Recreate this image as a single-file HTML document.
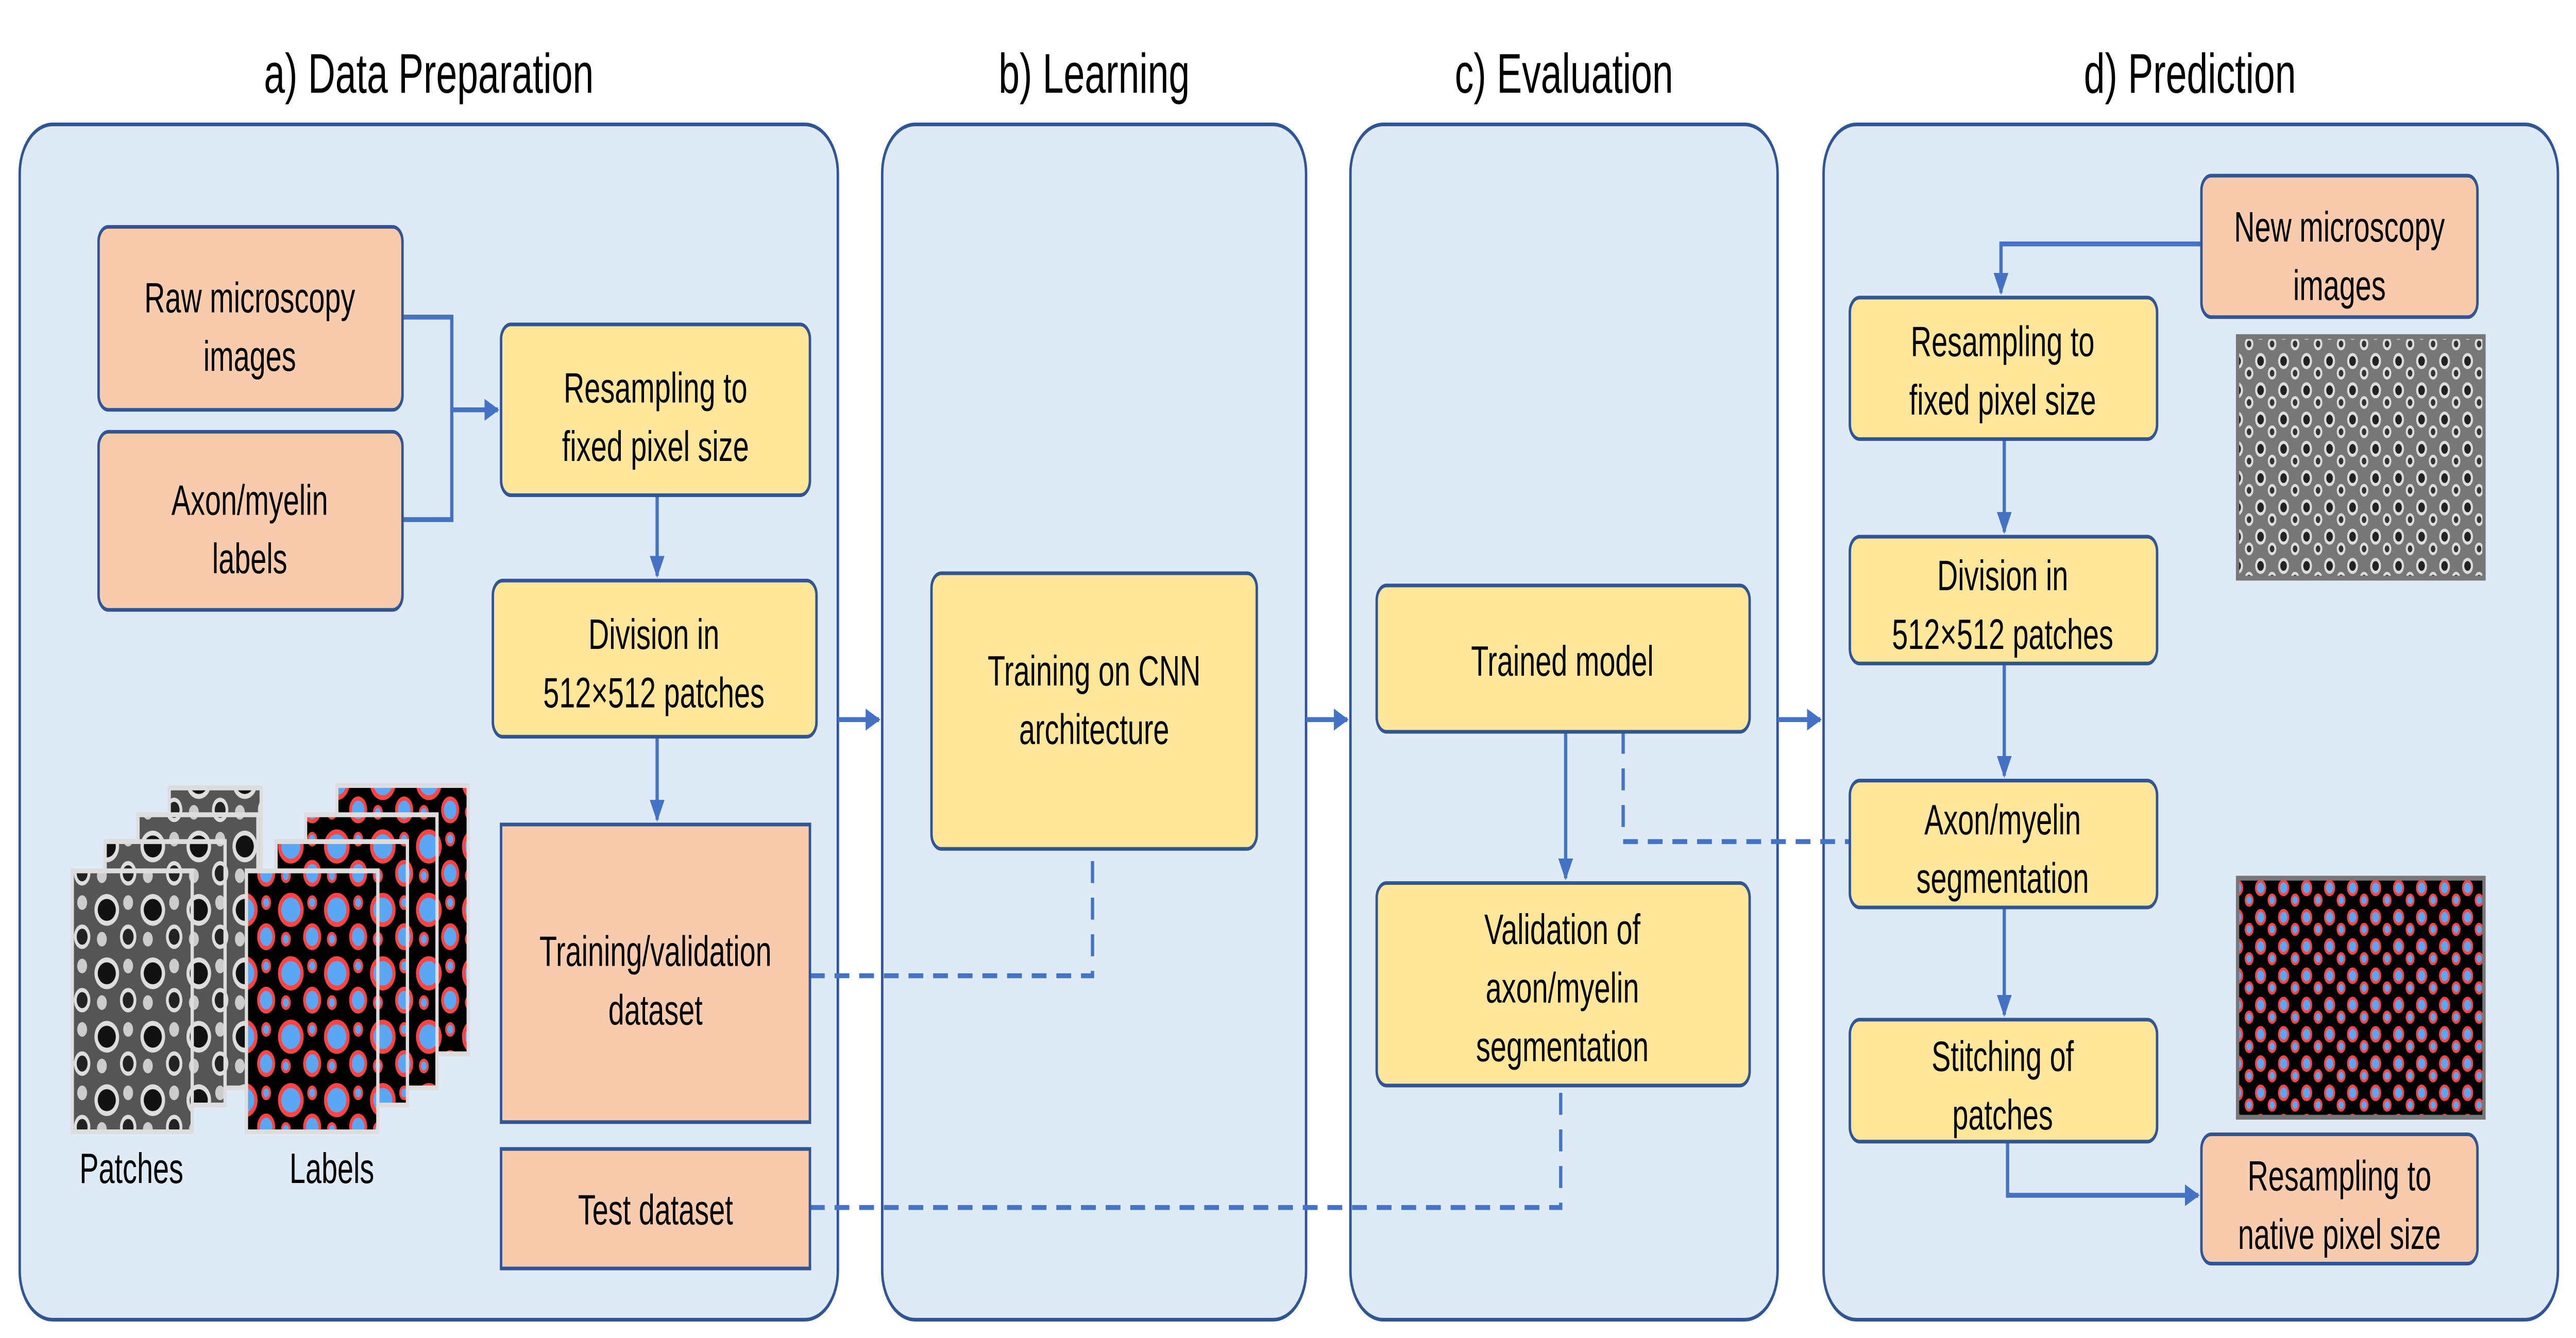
<!DOCTYPE html>
<html><head><meta charset="utf-8"><style>
html,body{margin:0;padding:0;background:#fff;overflow:hidden;width:100%;height:100%;}
svg{display:block;width:100vw;height:100vh;}
text{font-family:"Liberation Sans",Arial,sans-serif;fill:#000;}
</style></head><body>
<svg viewBox="0 0 1568 548.5" preserveAspectRatio="none" xmlns="http://www.w3.org/2000/svg">
<defs>
<marker id="ar" viewBox="0 0 10 10" refX="9" refY="5" markerWidth="4.5" markerHeight="4.5" orient="auto"><path d="M0,0 L10,5 L0,10 Z" fill="#4472C4"/></marker>
<pattern id="gray" width="14" height="12" patternUnits="userSpaceOnUse">
<rect width="14" height="12" fill="#777"/>
<circle cx="4" cy="4" r="3.3" fill="#ddd"/><circle cx="4" cy="4" r="2" fill="#222"/>
<circle cx="11" cy="9" r="2.6" fill="#ddd"/><circle cx="11" cy="9" r="1.4" fill="#333"/>
</pattern>
<pattern id="grayBig" width="28" height="26" patternUnits="userSpaceOnUse">
<rect width="28" height="26" fill="#555"/>
<ellipse cx="9" cy="9" rx="7.5" ry="6.5" fill="#ddd"/><ellipse cx="9" cy="9" rx="5.5" ry="4.5" fill="#111"/>
<circle cx="22" cy="20" r="5" fill="#ddd"/><circle cx="22" cy="20" r="3.3" fill="#222"/>
<circle cx="22" cy="6" r="3" fill="#ccc"/><circle cx="6" cy="21" r="3" fill="#ccc"/>
</pattern>
<pattern id="lab" width="14" height="12" patternUnits="userSpaceOnUse">
<rect width="14" height="12" fill="#000"/>
<circle cx="4" cy="4" r="3.4" fill="#F44"/><circle cx="4" cy="4" r="2.2" fill="#5AA8F5"/>
<circle cx="11" cy="9" r="2.7" fill="#F44"/><circle cx="11" cy="9" r="1.6" fill="#5AA8F5"/>
</pattern>
<pattern id="labBig" width="28" height="26" patternUnits="userSpaceOnUse">
<rect width="28" height="26" fill="#000"/>
<ellipse cx="9" cy="9" rx="7.8" ry="7" fill="#F44"/><ellipse cx="9" cy="9" rx="5.8" ry="5" fill="#5AA8F5"/>
<circle cx="22" cy="20" r="5.5" fill="#F44"/><circle cx="22" cy="20" r="3.8" fill="#5AA8F5"/>
<circle cx="22" cy="6" r="3" fill="#F44"/><circle cx="22" cy="6" r="1.8" fill="#5AA8F5"/>
<circle cx="6" cy="21" r="3" fill="#F44"/><circle cx="6" cy="21" r="1.8" fill="#5AA8F5"/>
</pattern>
</defs>

<g font-size="23" text-anchor="middle">
<text x="261" y="38">a) Data Preparation</text>
<text x="666" y="38">b) Learning</text>
<text x="952" y="38">c) Evaluation</text>
<text x="1333" y="38">d) Prediction</text>
</g>

<g fill="#DEEAF6" stroke="#2F5597" stroke-width="1.5">
<rect x="12" y="51" width="498" height="490" rx="20"/>
<rect x="537" y="51" width="258" height="490" rx="20"/>
<rect x="822" y="51" width="260" height="490" rx="20"/>
<rect x="1110" y="51" width="447" height="490" rx="20"/>
</g>

<g stroke="#4472C4" stroke-width="2" fill="none">
<path d="M245,130 H275 V213 H245"/>
<path d="M275,168 H303" marker-end="url(#ar)"/>
<path d="M400,203 V236" marker-end="url(#ar)"/>
<path d="M400,302 V336" marker-end="url(#ar)"/>
<path d="M510,295 H535" marker-end="url(#ar)"/>
<path d="M795,295 H820" marker-end="url(#ar)"/>
<path d="M1082,295 H1108" marker-end="url(#ar)"/>
<path d="M953,300 V360" marker-end="url(#ar)"/>
<path d="M1340,100 H1218 V120" marker-end="url(#ar)"/>
<path d="M1220,180 V218" marker-end="url(#ar)"/>
<path d="M1220,272 V318" marker-end="url(#ar)"/>
<path d="M1220,372 V416" marker-end="url(#ar)"/>
<path d="M1222,468 V490 H1338" marker-end="url(#ar)"/>
</g>
<g stroke="#4472C4" stroke-width="2" fill="none" stroke-dasharray="9,6">
<path d="M493,400 H665 V349"/>
<path d="M493,495 H950 V446"/>
<path d="M988,300 V345 H1126"/>
</g>

<g stroke="#2F5597" stroke-width="1.5">
<rect x="60" y="93" width="185" height="75" rx="6" fill="#F8CBAD"/>
<rect x="60" y="177" width="185" height="73" rx="6" fill="#F8CBAD"/>
<rect x="305" y="133" width="188" height="70" rx="6" fill="#FFE699"/>
<rect x="300" y="238" width="197" height="64" rx="6" fill="#FFE699"/>
<rect x="305" y="338" width="188" height="122" fill="#F8CBAD"/>
<rect x="305" y="471" width="188" height="49" fill="#F8CBAD"/>
<rect x="567" y="235" width="198" height="113" rx="6" fill="#FFE699"/>
<rect x="838" y="240" width="227" height="60" rx="6" fill="#FFE699"/>
<rect x="838" y="362" width="227" height="83" rx="6" fill="#FFE699"/>
<rect x="1340" y="72" width="168" height="58" rx="6" fill="#F8CBAD"/>
<rect x="1126" y="122" width="187" height="58" rx="6" fill="#FFE699"/>
<rect x="1126" y="220" width="187" height="52" rx="6" fill="#FFE699"/>
<rect x="1126" y="320" width="187" height="52" rx="6" fill="#FFE699"/>
<rect x="1126" y="418" width="187" height="50" rx="6" fill="#FFE699"/>
<rect x="1340" y="465" width="168" height="53" rx="6" fill="#F8CBAD"/>
</g>

<g font-size="17.5" text-anchor="middle">
<text x="152" y="128">Raw microscopy</text><text x="152" y="152">images</text>
<text x="152" y="211">Axon/myelin</text><text x="152" y="235">labels</text>
<text x="399" y="165">Resampling to</text><text x="399" y="189">fixed pixel size</text>
<text x="398" y="266">Division in</text><text x="398" y="290">512×512 patches</text>
<text x="399" y="396">Training/validation</text><text x="399" y="420">dataset</text>
<text x="399" y="502">Test dataset</text>
<text x="666" y="281">Training on CNN</text>
<text x="666" y="305">architecture</text>
<text x="951" y="277">Trained model</text>
<text x="951" y="387">Validation of</text><text x="951" y="411">axon/myelin</text><text x="951" y="435">segmentation</text>
<text x="1424" y="99">New microscopy</text><text x="1424" y="123">images</text>
<text x="1219" y="146">Resampling to</text><text x="1219" y="170">fixed pixel size</text>
<text x="1219" y="242">Division in</text><text x="1219" y="266">512×512 patches</text>
<text x="1219" y="342">Axon/myelin</text><text x="1219" y="366">segmentation</text>
<text x="1219" y="439">Stitching of</text><text x="1219" y="463">patches</text>
<text x="1424" y="488">Resampling to</text><text x="1424" y="512">native pixel size</text>
<text x="80" y="485">Patches</text>
<text x="202" y="485">Labels</text>
</g>

<g stroke="#ddd" stroke-width="2">
<rect x="103" y="323" width="56" height="110" fill="url(#grayBig)"/>
<rect x="84" y="334" width="73" height="112" fill="url(#grayBig)"/>
<rect x="64" y="345" width="73" height="108" fill="url(#grayBig)"/>
<rect x="44" y="357" width="73" height="107" fill="url(#grayBig)"/>
<rect x="205" y="322" width="80" height="110" fill="url(#labBig)"/>
<rect x="186" y="334" width="80" height="112" fill="url(#labBig)"/>
<rect x="168" y="345" width="80" height="108" fill="url(#labBig)"/>
<rect x="150" y="357" width="80" height="107" fill="url(#labBig)"/>
</g>

<rect x="1362" y="138" width="150" height="99" fill="url(#gray)" stroke="#777" stroke-width="2"/>
<rect x="1362" y="360" width="150" height="98" fill="url(#lab)" stroke="#777" stroke-width="2"/>
</svg>
</body></html>
